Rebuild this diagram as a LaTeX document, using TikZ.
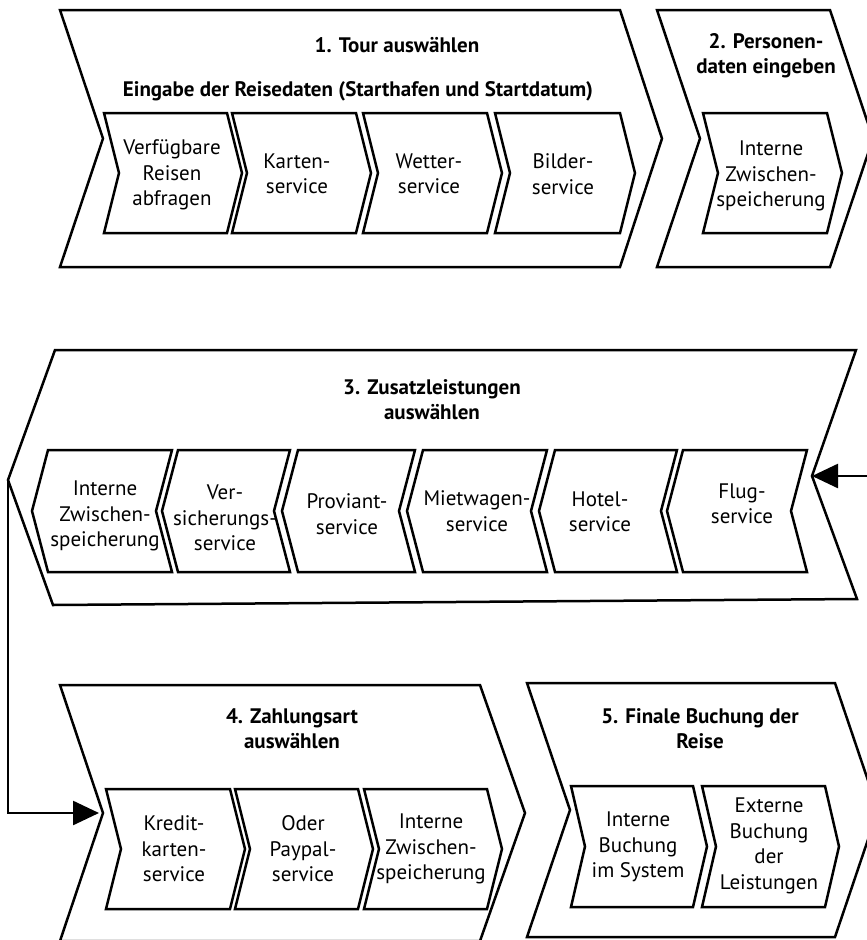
\documentclass[tikz,border=0pt]{standalone}
\usepackage{fontspec}
\setmainfont{PT Sans}
\usetikzlibrary{arrows.meta}
% right-pointing chevron: x1, x2, ytop, ybottom, depth
\newcommand{\rchev}[5]{\draw (#1,#3) -- (#2,#3) -- ({#2+#5},{(#3+#4)/2}) -- (#2,#4) -- (#1,#4) -- ({#1+#5},{(#3+#4)/2}) -- cycle;}
% left-pointing chevron: x1, x2, ytop, ybottom, depth
\newcommand{\lchev}[5]{\draw (#1,#3) -- (#2,#3) -- ({#2-#5},{(#3+#4)/2}) -- (#2,#4) -- (#1,#4) -- ({#1-#5},{(#3+#4)/2}) -- cycle;}
\begin{document}
\begin{tikzpicture}[x=1pt,y=-1pt,line width=2.5pt,line join=miter,
  txt/.style={align=center,inner sep=0pt,font=\fontsize{21}{25.5}\selectfont},
  ttl/.style={align=center,inner sep=0pt,font=\bfseries\fontsize{21}{25}\selectfont},
  flow/.style={line width=2.5pt,-{Triangle[length=26pt,width=24pt]}}]
\useasboundingbox (0,0) rectangle (867,940);
\clip (0,0) rectangle (867,940);

% ---------- big chevrons ----------
\draw (60,10) -- (620,10) -- (662,138.5) -- (620,267) -- (60,267) -- (103,138.5) -- cycle;
\draw (657,10) -- (830,10) -- (873,138.5) -- (830,267) -- (657,267) -- (700,138.5) -- cycle;
\draw (55,350) -- (856,350) -- (812,476) -- (857,599) -- (53,605) -- (8,480) -- cycle;
\draw (60,685) -- (480,685) -- (525,813) -- (480,941) -- (60,941) -- (103,813) -- cycle;
\draw (527,683) -- (835,683) -- (878,810) -- (835,937) -- (527,937) -- (570,810) -- cycle;

% ---------- inner chevrons ----------
\rchev{104}{227}{113}{233}{15}
\rchev{232}{356}{113}{233}{15}
\rchev{363}{487}{113}{233}{15}
\rchev{495}{620}{113}{233}{15}
\rchev{703}{827}{113}{233}{15}

\lchev{48}{172}{450}{572}{16}
\lchev{178}{290}{450}{572}{16}
\lchev{298}{415}{450}{572}{16}
\lchev{423}{547}{450}{572}{16}
\lchev{555}{677}{450}{572}{16}
\lchev{683}{807}{450}{572}{16}

\rchev{106}{230}{789}{909}{15}
\rchev{235}{358}{789}{909}{15}
\rchev{364}{487}{789}{909}{15}
\rchev{571}{693}{786}{907}{14}
\rchev{702}{825}{786}{907}{14}

% ---------- titles ----------
\node[ttl] (t1) at (397,45) {1. Tour auswählen};
\node[ttl] (t1b) at (358,91) {Eingabe der Reisedaten (Starthafen und Startdatum)};
\node[ttl] (t2) at (766,56) {2. Personen-\\daten eingeben};
\node[ttl] (t3) at (432,400) {3. Zusatzleistungen\\auswählen};
\node[ttl] (t4) at (292,729) {4. Zahlungsart\\auswählen};
\node[ttl] (t5) at (700,729) {5. Finale Buchung der\\Reise};

% ---------- box texts ----------
\node[txt] (b11) at (172,175) {Verfügbare\\Reisen\\abfragen};
\node[txt] (b12) at (297,174) {Karten-\\service};
\node[txt] (b13) at (429,174) {Wetter-\\service};
\node[txt] (b14) at (563,174) {Bilder-\\service};
\node[txt] (b21) at (771,176) {Interne\\Zwischen-\\speicherung};

\node[txt] (b31) at (105,516) {Interne\\Zwischen-\\speicherung};
\node[txt] (b32) at (225,518) {Ver-\\sicherungs-\\service};
\node[txt] (b33) at (347,514) {Proviant-\\service};
\node[txt] (b34) at (477,511) {Mietwagen-\\service};
\node[txt] (b35) at (600,512) {Hotel-\\service};
\node[txt] (b36) at (742,504) {Flug-\\service};

\node[txt] (b41) at (174,849) {Kredit-\\karten-\\service};
\node[txt] (b42) at (303,849) {Oder\\Paypal-\\service};
\node[txt] (b43) at (431,849) {Interne\\Zwischen-\\speicherung};
\node[txt] (b51) at (638,847) {Interne\\Buchung\\im System};
\node[txt] (b52) at (769,846) {Externe\\Buchung\\der\\Leistungen};

% ---------- connectors ----------
\coordinate (inR) at (875,476);
\coordinate (c3notch) at (812,476);
\coordinate (c3tip) at (8,480);
\coordinate (c4notch) at (103,813);
\draw[flow] (inR) -- (c3notch);
\draw[flow,shorten >=4pt] (c3tip) |- (c4notch);
\end{tikzpicture}
\end{document}
